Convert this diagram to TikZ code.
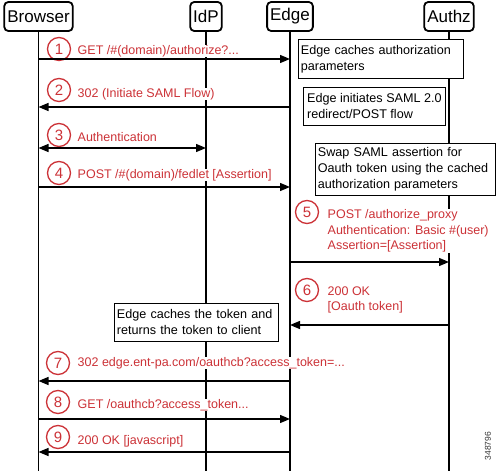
\documentclass[tikz,border=0pt]{standalone}
\usepackage{fontspec}
\setmainfont{Liberation Sans}
\usetikzlibrary{arrows.meta}
\definecolor{cred}{RGB}{204,50,55}
\begin{document}
\begin{tikzpicture}[x=1pt,y=-1pt,
  hdr/.style={draw,fill=white,line width=1.8pt,rounded corners=4pt,minimum height=29pt,inner xsep=3pt,font=\fontsize{17}{20}\selectfont},
  life/.style={line width=1.4pt},
  msg/.style={line width=1.4pt,-{Triangle[length=10pt,width=8pt]}},
  dmsg/.style={line width=1.4pt,{Triangle[length=10pt,width=8pt]}-{Triangle[length=10pt,width=8pt]}},
  lbl/.style={text=cred,font=\fontsize{12.5}{15.5}\selectfont,anchor=west,fill=white,inner sep=0.5pt,align=left},
  num/.style={circle,draw=cred,fill=white,line width=1.3pt,text=cred,minimum size=23pt,inner sep=0pt,font=\fontsize{15}{15}\selectfont},
  note/.style={draw,fill=white,line width=0.8pt,anchor=north west,align=left,font=\fontsize{12.6}{16}\selectfont,inner xsep=2.5pt,inner ysep=2pt}
]
\useasboundingbox (0,0) rectangle (499,471);
% headers
\node[hdr] (browser) at (38.5,16.5) {Browser};
\node[hdr] (idp) at (206,16.5) {IdP};
\node[hdr] (edge) at (290,16.5) {Edge};
\node[hdr] (authz) at (449,16.5) {Authz};
% lifeline ends
\coordinate (bEnd) at (browser.south |- 0,471);
\coordinate (iEnd) at (idp.south |- 0,471);
\coordinate (eEnd) at (edge.south |- 0,471);
\coordinate (aEnd) at (authz.south |- 0,471);
\draw[life] (browser.south) -- (bEnd);
\draw[life] (idp.south) -- (iEnd);
\draw[life] (edge.south) -- (eEnd);
\draw[life] (authz.south) -- (aEnd);
% message coordinates
\foreach \n/\y in {1/59,2/107,3/148,4/187,5/262,6/325,7/381,8/419,9/452}{
  \coordinate (b\n) at (browser.south |- 0,\y);
  \coordinate (i\n) at (idp.south |- 0,\y);
  \coordinate (e\n) at (edge.south |- 0,\y);
  \coordinate (a\n) at (authz.south |- 0,\y);
}
% labels
\node[num] (n1) at (59,49) {1};
\node[lbl] (t1) at (77,51) {GET /\#(domain)/authorize?...};
\node[num] (n2) at (59,90) {2};
\node[lbl] (t2) at (77,94) {302 (Initiate SAML Flow)};
\node[num] (n3) at (59,135) {3};
\node[lbl] (t3) at (77,137) {Authentication};
\node[num] (n4) at (59,173) {4};
\node[lbl] (t4) at (77,175) {POST /\#(domain)/fedlet [Assertion]};
\node[num] (n5) at (307,212) {5};
\node[lbl] (t5) at (327,231) {POST /authorize\_proxy\\Authentication: Basic \#(user)\\Assertion=[Assertion]};
\node[num] (n6) at (307,290) {6};
\node[lbl] (t6) at (327,300) {200 OK\\{}[Oauth token]};
\node[num] (n7) at (58,363) {7};
\node[lbl] (t7) at (77,363) {302 edge.ent-pa.com/oauthcb?access\_token=...};
\node[num] (n8) at (58,402) {8};
\node[lbl] (t8) at (77,405) {GET /oauthcb?access\_token...};
\node[num] (n9) at (58,437) {9};
\node[lbl] (t9) at (77,441) {200 OK [javascript]};
% notes
\node[note,text width=160pt,minimum height=39pt] (c1) at (298,39) {Edge caches authorization\\parameters};
\node[note,minimum width=142pt,minimum height=38pt] (c2) at (303,87) {Edge initiates SAML 2.0\\redirect/POST flow};
\node[note,text width=175pt,minimum height=52pt] (c3) at (315,143) {Swap SAML assertion for\\Oauth token using the cached\\authorization parameters};
\node[note,text width=159pt,minimum height=38pt] (c4) at (114,303) {Edge caches the token and\\returns the token to client};
% arrows
\draw[msg] (b1) -- (e1);
\draw[msg] (e2) -- (b2);
\draw[dmsg] (b3) -- (i3);
\draw[msg] (b4) -- (e4);
\draw[msg] (e5) -- (a5);
\draw[msg] (a6) -- (e6);
\draw[msg] (e7) -- (b7);
\draw[msg] (b8) -- (e8);
\draw[msg] (e9) -- (b9);
% watermark
\node[rotate=90,font=\fontsize{8.5}{10}\selectfont,text=black!80] (wm) at (488,446) {348796};
\end{tikzpicture}
\end{document}
